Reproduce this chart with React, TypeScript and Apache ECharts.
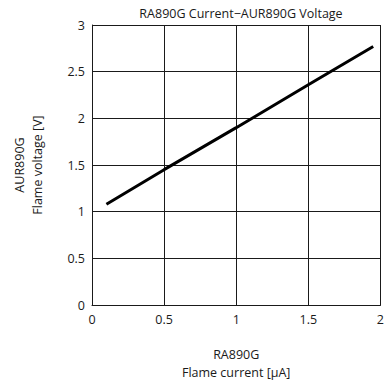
import React, { useEffect, useRef } from "react";
import * as echarts from "echarts";

const titleText = "RA890G Current\u2212AUR890G Voltage";
const xName = "RA890G\nFlame current [\u00b5A]";
const yName = "AUR890G\nFlame voltage [V]";
const currentValues = [0.1, 0.5, 1.0, 1.5, 1.95];
const voltageValues = [1.08, 1.45, 1.9, 2.36, 2.77];

const FONT = "'Open Sans', sans-serif";

export default function App() {
  const ref = useRef<HTMLDivElement>(null);
  useEffect(() => {
    if (!ref.current) return;
    const chart = echarts.init(ref.current, null, { renderer: "svg" });
    chart.setOption({
      animation: false,
      backgroundColor: "#ffffff",
      title: {
        text: titleText,
        left: 236,
        textAlign: "center",
        top: 2,
        textStyle: { fontFamily: FONT, fontSize: 12.5, fontWeight: "normal", color: "#1a1a1a" },
      },
      grid: { left: 92, right: 2, top: 25, bottom: 82, containLabel: false },
      xAxis: {
        type: "value",
        min: 0,
        max: 2,
        interval: 0.5,
        name: xName,
        nameLocation: "middle",
        nameGap: 40,
        nameTextStyle: { fontFamily: FONT, fontSize: 12.5, color: "#1a1a1a", lineHeight: 18 },
        axisLine: { show: true, lineStyle: { color: "#1a1a1a", width: 1 } },
        axisTick: { show: false },
        axisLabel: { fontFamily: FONT, fontSize: 12.5, color: "#1a1a1a", margin: 8 },
        splitLine: { show: true, lineStyle: { color: "#1a1a1a", width: 1 } },
      },
      yAxis: {
        type: "value",
        min: 0,
        max: 3,
        interval: 0.5,
        name: yName,
        nameLocation: "middle",
        nameGap: 46,
        nameTextStyle: { fontFamily: FONT, fontSize: 12.5, color: "#1a1a1a", lineHeight: 18, padding: [0, 0, 0, 0] },
        axisLine: { show: true, lineStyle: { color: "#1a1a1a", width: 1 } },
        axisTick: { show: false },
        axisLabel: { fontFamily: FONT, fontSize: 12.5, color: "#1a1a1a", margin: 7 },
        splitLine: { show: true, lineStyle: { color: "#1a1a1a", width: 1 } },
      },
      series: [
        {
          type: "line",
          data: currentValues.map((x, i) => [x, voltageValues[i]]),
          showSymbol: false,
          lineStyle: { color: "#000000", width: 3 },
        },
      ],
    });
    return () => chart.dispose();
  }, []);
  return <div ref={ref} style={{ width: 387, height: 387, position: "absolute", left: 0, top: 0 }} />;
}
